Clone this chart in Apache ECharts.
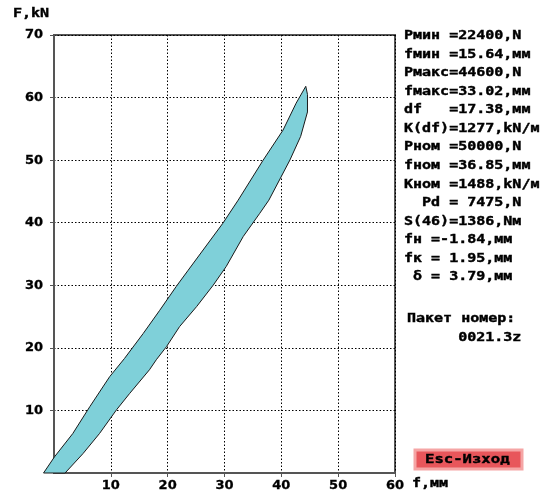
<!DOCTYPE html>
<html>
<head>
<meta charset="utf-8">
<script src="https://cdn.jsdelivr.net/npm/echarts@6/dist/echarts.min.js"></script>
<style>
  html, body { margin: 0; padding: 0; background: #fff; }
  #chart { width: 547px; height: 493px; }
</style>
</head>
<body>
<div id="chart"></div>
<script>
// ветвь нагрузки (левая граница петли), f, мм / P, kN
const loadF = [-1.84, 0.1, 3.3, 6.3, 9.8, 12.4, 15.7, 18.6, 21.5, 23.6, 29.7, 32.4, 36.8, 40.3, 42.6, 44.3];
const loadP = [0, 2.6, 6.3, 10.6, 15.4, 18.3, 22.3, 26.0, 29.8, 32.4, 39.9, 43.6, 50.0, 54.8, 59.1, 61.8];
// ветвь разгрузки (правая граница), от вершины вниз
const unloadF = [44.6, 44.6, 43.4, 41.5, 40.0, 37.8, 36.2, 33.3, 30.3, 28.0, 25.1, 22.1, 19.8, 18.0, 16.8, 13.3, 11.0, 8.0, 5.1, 1.95];
const unloadP = [60.5, 57.7, 53.8, 50.0, 47.4, 43.6, 41.5, 37.8, 33.0, 30.0, 26.6, 23.4, 20.2, 18.1, 16.5, 12.7, 10.1, 6.3, 3.1, 0];

const xTicks = [0, 60, 10];   // min, max, шаг
const yTicks = [0, 70, 10];

// текст справа
const panelLines = [
  'Pмин =22400,N',
  'fмин =15.64,мм',
  'Pмакс=44600,N',
  'fмакс=33.02,мм',
  'df   =17.38,мм',
  'K(df)=1277,kN/м',
  'Pном =50000,N',
  'fном =36.85,мм',
  'Кном =1488,kN/м',
  '  Pd = 7475,N',
  'S(46)=1386,Nм',
  'fн =-1.84,мм',
  'fк = 1.95,мм',
  ' δ = 3.79,мм'
];
const packetLines = ['Пакет номер:', '      0021.3z'];

const FONT = 'bold 12px "DejaVu Sans Mono"';
const SX = 1.25;

const chart = echarts.init(document.getElementById('chart'));

const txt = (x, y, text) => ({
  type: 'text', x: x, y: y, scaleX: SX,
  style: {
    text: text, font: FONT, fill: '#000', stroke: '#000', lineWidth: 0.4,
    verticalAlign: 'middle', align: 'left'
  }
});

const graphics = [];
panelLines.forEach((s, i) => graphics.push(txt(404, 36 + i * 18.56, s)));
graphics.push(txt(407, 319, packetLines[0]));
graphics.push(txt(404, 338, packetLines[1]));
graphics.push(txt(13, 14, 'F,kN'));
graphics.push(txt(412, 484, 'f,мм'));
// кнопка выхода
graphics.push({
  type: 'rect', x: 415, y: 450,
  shape: { width: 107, height: 19 },
  style: { fill: '#e8565b', stroke: '#f5a5a5', lineWidth: 3 }
});
graphics.push({
  type: 'text', x: 425, y: 460, scaleX: 1.3,
  style: {
    text: 'Esc-Изход', font: 'bold 12px "DejaVu Sans Mono"', fill: '#000',
    stroke: '#000', lineWidth: 0.4, verticalAlign: 'middle'
  }
});

const labelStyle = {
  showMinLabel: false, color: '#000', fontWeight: 'bold',
  fontFamily: 'DejaVu Sans', fontSize: 13, textBorderColor: '#000', textBorderWidth: 0.3
};

const axisCommon = {
  type: 'value',
  axisLine: { show: true, lineStyle: { color: '#555', width: 2 } },
  axisTick: { show: true, length: 4, lineStyle: { color: '#555', width: 1 } },
  splitLine: { show: true, lineStyle: { color: '#000', width: 1, type: [1.5, 2] } },
};

const option = {
  animation: false,
  backgroundColor: '#fff',
  grid: {
    left: 54, top: 35, right: 152, bottom: 20,
    show: true, borderColor: '#555', borderWidth: 2, backgroundColor: 'transparent'
  },
  xAxis: Object.assign({}, axisCommon, {
    min: xTicks[0], max: xTicks[1], interval: xTicks[2],
    axisLabel: Object.assign({}, labelStyle, { margin: 6 })
  }),
  yAxis: Object.assign({}, axisCommon, {
    min: yTicks[0], max: yTicks[1], interval: yTicks[2],
    axisLabel: Object.assign({}, labelStyle, { margin: 11 })
  }),
  graphic: graphics,
  series: [
    {
      type: 'custom',
      clip: false,
      data: [[0, 0]],
      renderItem: (params, api) => {
        const pts = [];
        for (let i = 0; i < loadF.length; i++) pts.push(api.coord([loadF[i], loadP[i]]));
        for (let i = 0; i < unloadF.length; i++) pts.push(api.coord([unloadF[i], unloadP[i]]));
        return {
          type: 'polygon',
          shape: { points: pts },
          style: { fill: '#7fd0d9', stroke: '#1a1a1a', lineWidth: 1 }
        };
      }
    }
  ]
};
chart.setOption(option);
</script>
</body>
</html>
